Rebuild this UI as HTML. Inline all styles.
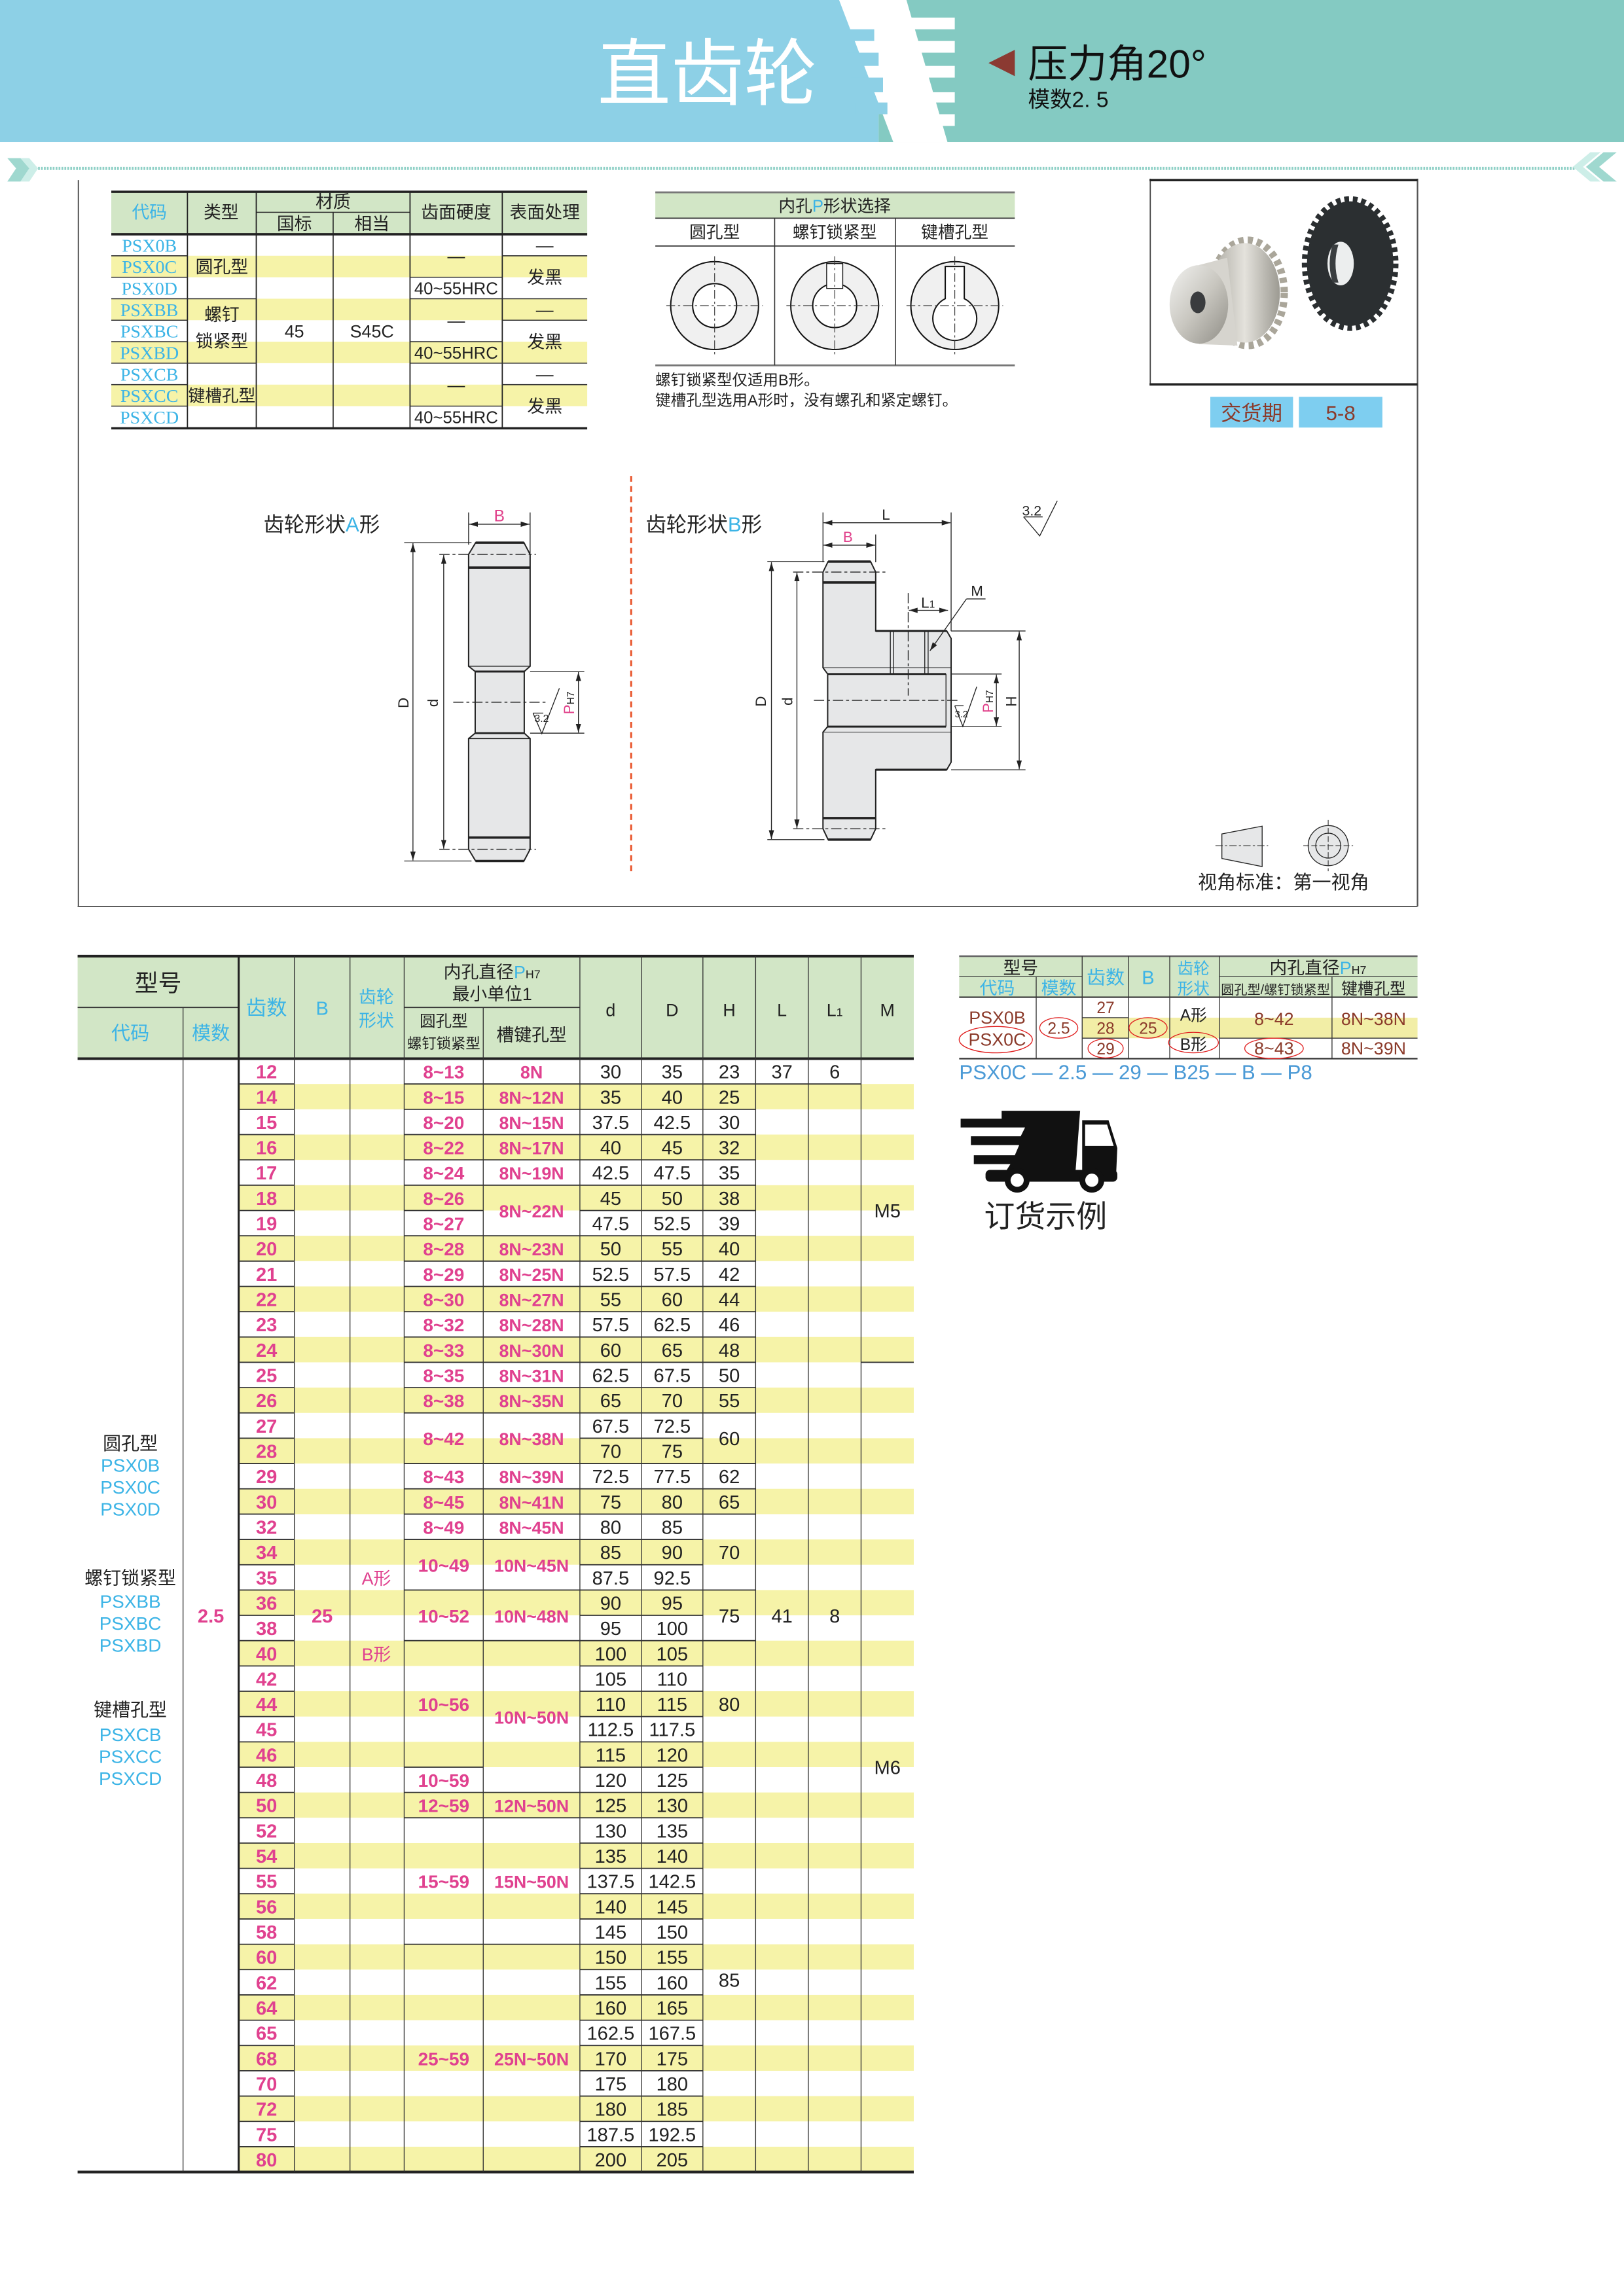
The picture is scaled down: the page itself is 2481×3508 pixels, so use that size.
<!DOCTYPE html>
<html><head><meta charset="utf-8">
<style>
html,body{margin:0;padding:0;background:#fff;}
svg{display:block;}
text{font-family:"Liberation Sans","Noto Sans CJK SC",sans-serif;}
.s{font-family:"Liberation Serif","Noto Serif CJK SC",serif;}
</style></head>
<body>
<svg id="g" xmlns="http://www.w3.org/2000/svg" width="2481" height="3508" viewBox="0 0 1109 1568" preserveAspectRatio="none">
<defs>
<marker id="ar" viewBox="0 0 10 10" refX="10" refY="5" markerWidth="6" markerHeight="6" orient="auto-start-reverse" markerUnits="userSpaceOnUse"><path d="M0,2 L10,5 L0,8 Z" fill="#222"/></marker>
<linearGradient id="sil" x1="0" y1="0" x2="1" y2="1"><stop offset="0" stop-color="#f2f2f0"/><stop offset="0.5" stop-color="#c9c7c0"/><stop offset="1" stop-color="#8f8d86"/></linearGradient>
<linearGradient id="sil2" x1="0" y1="0" x2="1" y2="0"><stop offset="0" stop-color="#a8a69e"/><stop offset="0.5" stop-color="#e4e2dc"/><stop offset="1" stop-color="#9c9a92"/></linearGradient>
</defs>
<rect x="0" y="0" width="1109" height="1568" fill="#fff"/>
<rect x="0" y="0" width="600" height="97" fill="#8dd0e6"/>
<rect x="600" y="0" width="509" height="97" fill="#84cac2"/>
<polygon points="573,0 619,0 647,97 610,97" fill="#fff"/>
<g fill="#fff">
<rect x="619" y="12" width="33" height="8"/><rect x="619" y="28" width="33" height="8"/><rect x="619" y="45" width="33" height="8"/><rect x="619" y="63" width="33" height="7"/><rect x="619" y="78" width="33" height="8"/>
</g>
<g fill="#8dd0e6">
<rect x="575" y="20" width="22" height="8"/><rect x="578" y="36" width="22" height="9"/><rect x="581" y="53" width="22" height="10"/><rect x="584" y="70" width="22" height="8"/>
</g>
<text x="483" y="68" font-size="50" fill="#fff" text-anchor="middle">直齿轮</text>
<polygon points="693,34 693,52 675,43" fill="#8b3a32"/>
<text x="702" y="53" font-size="27" fill="#111">压力角20°</text>
<text x="702" y="73" font-size="15" fill="#111">模数2. 5</text>
<line x1="18" y1="115" x2="1076" y2="115" stroke="#8fd0c6" stroke-width="2.2" stroke-dasharray="1.2 0.8"/>
<polygon points="5,108 14,108 20,115 14,124 5,124 11,115" fill="#9fd8cf"/>
<polygon points="14,108 20,108 26,115 20,124 14,124 20,115" fill="#cdeee8"/>
<polygon points="1104,104 1095,104 1083,114 1095,124 1104,124 1092,114" fill="#9fd8cf"/>
<polygon points="1093,104 1086,104 1074,114 1086,124 1093,124 1081,114" fill="#cdeee8"/>
<line x1="53.5" y1="123" x2="53.5" y2="619" stroke="#444" stroke-width="0.8"/>
<line x1="53" y1="619" x2="968" y2="619" stroke="#444" stroke-width="0.8"/>
<line x1="968" y1="122" x2="968" y2="619" stroke="#555" stroke-width="1"/>
<line x1="785.5" y1="122" x2="785.5" y2="263" stroke="#444" stroke-width="0.8"/>
<line x1="785" y1="123" x2="968" y2="123" stroke="#222" stroke-width="1.6"/>
<line x1="785" y1="262.5" x2="968" y2="262.5" stroke="#222" stroke-width="1.6"/>
<g>
<ellipse cx="852" cy="200" rx="25" ry="36" fill="none" stroke="#aaa69a" stroke-width="5" stroke-dasharray="3.5 2.8"/>
<ellipse cx="850" cy="200" rx="24" ry="34" fill="url(#sil2)"/>
<path d="M818.7,181 L838,176 L845,236 L818.7,235 Z" fill="#d6d4ce"/>
<ellipse cx="818.7" cy="207.9" rx="20" ry="26.8" fill="url(#sil)"/>
<ellipse cx="818" cy="206.5" rx="5.2" ry="7.4" fill="#3a3c3e"/>
<ellipse cx="922" cy="180" rx="31" ry="44" fill="none" stroke="#2a2e30" stroke-width="4" stroke-dasharray="3.2 2.6"/>
<ellipse cx="922" cy="180" rx="29.5" ry="42.5" fill="#2b2f31"/>
<ellipse cx="915.5" cy="180" rx="9" ry="14.9" fill="#eceeee"/>
<path d="M910,167 Q906,180 910,193 L914,193 Q910,180 914,167Z" fill="#3a3e40"/>
</g>
<rect x="826.5" y="271" width="56.5" height="21" fill="#7ecef0"/>
<rect x="887" y="271" width="57" height="21" fill="#7ecef0"/>
<text x="854.7" y="287" font-size="14" fill="#8b3a2a" text-anchor="middle">交货期</text>
<text x="915.5" y="287" font-size="14" fill="#8b3a2a" text-anchor="middle">5-8</text>

<rect x="447.5" y="131.4" width="245.5" height="17.6" fill="#d2e6c6"/>
<line x1="447.5" y1="131.4" x2="693" y2="131.4" stroke="#777" stroke-width="1.3"/>
<line x1="447.5" y1="149" x2="693" y2="149" stroke="#333" stroke-width="0.8"/>
<line x1="447.5" y1="168" x2="693" y2="168" stroke="#333" stroke-width="0.8"/>
<line x1="447.5" y1="249.5" x2="693" y2="249.5" stroke="#777" stroke-width="1.3"/>
<line x1="529" y1="149" x2="529" y2="249.5" stroke="#333" stroke-width="0.7"/>
<line x1="611.5" y1="149" x2="611.5" y2="249.5" stroke="#333" stroke-width="0.7"/>
<text x="570" y="144.5" font-size="11.5" fill="#222" text-anchor="middle">内孔<tspan fill="#3cb4e6">P</tspan>形状选择</text>
<text x="488" y="162.5" font-size="11.5" fill="#222" text-anchor="middle">圆孔型</text>
<text x="570" y="162.5" font-size="11.5" fill="#222" text-anchor="middle">螺钉锁紧型</text>
<text x="652" y="162.5" font-size="11.5" fill="#222" text-anchor="middle">键槽孔型</text>
<g stroke="#111" stroke-width="0.9">
<circle cx="488" cy="208.7" r="30" fill="#f0f0f0"/><circle cx="488" cy="208.7" r="15" fill="#fff"/>
<circle cx="570" cy="208.7" r="30" fill="#f0f0f0"/><circle cx="570" cy="208.7" r="15" fill="#fff"/>
<rect x="564.5" y="180" width="11" height="17" fill="#fff" stroke-width="0.6"/>
<circle cx="652" cy="208.7" r="30" fill="#f0f0f0"/>
<path d="M645.5,204 L645.5,182 L658.5,182 L658.5,204 A15,15 0 1 1 645.5,204 Z" fill="#fff"/>
</g>
<g stroke="#333" stroke-width="0.5" stroke-dasharray="6 2 1.5 2">
<line x1="455" y1="208.7" x2="521" y2="208.7"/><line x1="488" y1="175" x2="488" y2="243"/>
<line x1="537" y1="208.7" x2="603" y2="208.7"/><line x1="570" y1="175" x2="570" y2="243"/>
<line x1="619" y1="208.7" x2="685" y2="208.7"/><line x1="652" y1="175" x2="652" y2="243"/>
</g>
<text x="447.5" y="263" font-size="10.5" fill="#222">螺钉锁紧型仅适用B形。</text>
<text x="447.5" y="277" font-size="10.5" fill="#222">键槽孔型选用A形时，没有螺孔和紧定螺钉。</text>

<line x1="431" y1="325" x2="431" y2="598" stroke="#e8542a" stroke-width="1.3" stroke-dasharray="4 3"/>
<text x="180" y="363" font-size="14" fill="#222">齿轮形状<tspan fill="#3cb4e6">A</tspan>形</text>
<text x="441" y="363" font-size="14" fill="#222">齿轮形状<tspan fill="#3cb4e6">B</tspan>形</text>
<path d="M324.8 370.6 L357.8 370.6 L362 378.6 L362 455 L358 458.6 L358 500.7 L362 504.4 L362 580 L357.8 588 L324.8 588 L320 580 L320 504.4 L324.5 500.7 L324.5 458.6 L320 455 L320 378.6 Z" fill="#e6e7e8" stroke="#222" stroke-width="0.9"/>
<g stroke="#222" fill="none">
<line x1="320" y1="387.6" x2="362" y2="387.6" stroke-width="1.6"/>
<line x1="320" y1="572" x2="362" y2="572" stroke-width="1.6"/>
<line x1="324.5" y1="458.6" x2="358" y2="458.6" stroke-width="1.3"/>
<line x1="324.5" y1="500.7" x2="358" y2="500.7" stroke-width="1.3"/>
<line x1="320" y1="455" x2="362" y2="455" stroke-width="0.6"/>
<line x1="320" y1="504.4" x2="362" y2="504.4" stroke-width="0.6"/>
<line x1="324.8" y1="370.6" x2="357.8" y2="370.6" stroke-width="1.6"/>
<line x1="324.8" y1="588" x2="357.8" y2="588" stroke-width="1.6"/>
<g stroke-width="0.6" stroke-dasharray="7 2 2 2">
<line x1="300" y1="378.6" x2="366" y2="378.6"/><line x1="300" y1="580" x2="366" y2="580"/>
<line x1="309.5" y1="479.6" x2="373" y2="479.6"/>
</g>
<g stroke-width="0.6">
<line x1="276" y1="370.6" x2="322" y2="370.6"/><line x1="276" y1="588" x2="322" y2="588"/>
<line x1="282" y1="371" x2="282" y2="587.6" marker-start="url(#ar)" marker-end="url(#ar)"/>
<line x1="303" y1="379" x2="303" y2="579.6" marker-start="url(#ar)" marker-end="url(#ar)"/>
<line x1="320" y1="350" x2="320" y2="372"/><line x1="362" y1="350" x2="362" y2="378"/>
<line x1="320.4" y1="358" x2="361.6" y2="358" marker-start="url(#ar)" marker-end="url(#ar)"/>
<line x1="362" y1="458.6" x2="399" y2="458.6"/><line x1="362" y1="500.7" x2="399" y2="500.7"/>
<line x1="395" y1="459" x2="395" y2="500.3" marker-start="url(#ar)" marker-end="url(#ar)"/>
<path d="M364,487 L370,501 L382,470"/><line x1="364" y1="487" x2="371" y2="487"/>
</g>
</g>
<text x="341" y="356" font-size="11" fill="#e0408a" text-anchor="middle">B</text>
<text transform="translate(279,480) rotate(-90)" font-size="10" fill="#222" text-anchor="middle">D</text>
<text transform="translate(299,480) rotate(-90)" font-size="10" fill="#222" text-anchor="middle">d</text>
<text transform="translate(392,480) rotate(-90)" font-size="10" fill="#e0408a" text-anchor="middle">P<tspan font-size="7" fill="#222">H7</tspan></text>
<text x="365" y="493" font-size="7" fill="#222">3.2</text>
<path d="M565.5 383.5 L594.5 383.5 L598 390.7 L598 430.9 L646.5 430.9 L649.5 436 L649.5 520.5 L646.5 525.7 L598 525.7 L598 566 L594.5 573.4 L565.5 573.4 L562 566 L562 500 L565.2 496.2 L565.2 460.3 L562 456 L562 390.7 Z" fill="#e6e7e8" stroke="#222" stroke-width="0.9"/>
<g stroke="#222" fill="none">
<line x1="562" y1="397.8" x2="598" y2="397.8" stroke-width="1.6"/>
<line x1="562" y1="558.7" x2="598" y2="558.7" stroke-width="1.6"/>
<line x1="565.5" y1="383.5" x2="594.5" y2="383.5" stroke-width="1.6"/>
<line x1="565.5" y1="573.4" x2="594.5" y2="573.4" stroke-width="1.6"/>
<line x1="598" y1="430.9" x2="646.5" y2="430.9" stroke-width="1.4"/>
<line x1="598" y1="525.7" x2="646.5" y2="525.7" stroke-width="1.4"/>
<line x1="565.2" y1="460.3" x2="646" y2="460.3" stroke-width="1.3"/>
<line x1="565.2" y1="496.2" x2="646" y2="496.2" stroke-width="1.3"/>
<line x1="646" y1="460.3" x2="646" y2="496.2" stroke-width="0.6"/>
<line x1="562" y1="456" x2="649.5" y2="456" stroke-width="0.5"/>
<line x1="562" y1="500" x2="649.5" y2="500" stroke-width="0.5"/>
<g stroke-width="0.6">
<line x1="608" y1="431" x2="608" y2="460"/><line x1="610.2" y1="431" x2="610.2" y2="460"/>
<line x1="631.5" y1="431" x2="631.5" y2="460"/><line x1="633.8" y1="431" x2="633.8" y2="460"/>
</g>
<g stroke-width="0.6" stroke-dasharray="7 2 2 2">
<line x1="541.6" y1="390.7" x2="605.6" y2="390.7"/><line x1="541.6" y1="566" x2="605.6" y2="566"/>
<line x1="555.8" y1="478.3" x2="654.8" y2="478.3"/>
<line x1="620.2" y1="405" x2="620.2" y2="475"/>
</g>
<g stroke-width="0.6">
<line x1="524" y1="383.5" x2="563" y2="383.5"/><line x1="524" y1="573.4" x2="563" y2="573.4"/>
<line x1="526.8" y1="384" x2="526.8" y2="573" marker-start="url(#ar)" marker-end="url(#ar)"/>
<line x1="544.2" y1="391" x2="544.2" y2="565.6" marker-start="url(#ar)" marker-end="url(#ar)"/>
<line x1="562" y1="350" x2="562" y2="384"/><line x1="649.5" y1="350" x2="649.5" y2="431"/><line x1="598" y1="365" x2="598" y2="384"/>
<line x1="562.4" y1="357" x2="649.1" y2="357" marker-start="url(#ar)" marker-end="url(#ar)"/>
<line x1="562.4" y1="372.3" x2="597.6" y2="372.3" marker-start="url(#ar)" marker-end="url(#ar)"/>
<line x1="620.6" y1="416.8" x2="647.4" y2="416.8" marker-start="url(#ar)" marker-end="url(#ar)"/>
<line x1="660" y1="409" x2="673" y2="409"/>
<line x1="660" y1="409" x2="635" y2="444.5" marker-end="url(#ar)"/>
<line x1="649.5" y1="430.9" x2="700.3" y2="430.9"/><line x1="649.5" y1="525.7" x2="700.3" y2="525.7"/>
<line x1="696" y1="431.3" x2="696" y2="525.3" marker-start="url(#ar)" marker-end="url(#ar)"/>
<line x1="649.5" y1="460.3" x2="684" y2="460.3"/><line x1="649.5" y1="496.2" x2="684" y2="496.2"/>
<line x1="680.4" y1="460.7" x2="680.4" y2="495.8" marker-start="url(#ar)" marker-end="url(#ar)"/>
<path d="M652,482 L657.5,496 L667,469"/><line x1="652" y1="482" x2="658" y2="482"/>
<path d="M699,353 L710,366 L722,342"/><line x1="699" y1="353" x2="712" y2="353"/>
</g>
</g>
<text x="605" y="355" font-size="10" fill="#222" text-anchor="middle">L</text>
<text x="579" y="370" font-size="10" fill="#e0408a" text-anchor="middle">B</text>
<text x="629" y="415" font-size="10" fill="#222">L<tspan font-size="7">1</tspan></text>
<text x="663" y="407" font-size="10" fill="#222">M</text>
<text transform="translate(523,479) rotate(-90)" font-size="10" fill="#222" text-anchor="middle">D</text>
<text transform="translate(541,479) rotate(-90)" font-size="10" fill="#222" text-anchor="middle">d</text>
<text transform="translate(678,479) rotate(-90)" font-size="10" fill="#e0408a" text-anchor="middle">P<tspan font-size="7" fill="#222">H7</tspan></text>
<text transform="translate(694,479) rotate(-90)" font-size="10" fill="#222" text-anchor="middle">H</text>
<text x="652" y="490" font-size="6.5" fill="#222">3.2</text>
<text x="698" y="352" font-size="9.5" fill="#222">3.2</text>
<polygon points="834.4,569.5 861.9,564.2 861.9,591.8 834.4,586.3" fill="#e6e7e8" stroke="#222" stroke-width="0.6"/>
<line x1="830" y1="577.5" x2="866" y2="577.5" stroke="#333" stroke-width="0.5" stroke-dasharray="5 1.5 1.5 1.5"/>
<circle cx="907" cy="577.5" r="13.7" fill="#e6e7e8" stroke="#222" stroke-width="0.6"/>
<circle cx="907" cy="577.5" r="8.5" fill="#e6e7e8" stroke="#222" stroke-width="0.6"/>
<line x1="890" y1="577.5" x2="924" y2="577.5" stroke="#333" stroke-width="0.5" stroke-dasharray="4 1.5"/>
<line x1="907" y1="560" x2="907" y2="595" stroke="#333" stroke-width="0.5" stroke-dasharray="4 1.5"/>
<text x="818" y="607" font-size="13" fill="#222">视角标准：第一视角</text>

<rect x="655" y="653" width="313" height="28" fill="#d2e6c6"/>
<rect x="739" y="695" width="229" height="14" fill="#f2eea6"/>
<g stroke="#333" stroke-width="0.6">
<line x1="655" y1="653" x2="968" y2="653" stroke="#666" stroke-width="1.2"/>
<line x1="655" y1="667" x2="739" y2="667"/><line x1="832.7" y1="667" x2="968" y2="667"/>
<line x1="655" y1="681" x2="968" y2="681" stroke-width="0.9"/>
<line x1="655" y1="723" x2="968" y2="723" stroke-width="1"/>
<line x1="707.6" y1="667" x2="707.6" y2="723"/>
<line x1="739" y1="653" x2="739" y2="723"/><line x1="770.6" y1="653" x2="770.6" y2="723"/>
<line x1="798.8" y1="653" x2="798.8" y2="723"/><line x1="832.7" y1="653" x2="832.7" y2="723"/>
<line x1="909.6" y1="667" x2="909.6" y2="723"/>
<line x1="739" y1="695" x2="770.6" y2="695"/><line x1="739" y1="709" x2="770.6" y2="709"/>
<line x1="832.7" y1="709" x2="968" y2="709"/>
</g>
<g font-size="12" text-anchor="middle">
<text x="697" y="665" fill="#222">型号</text>
<text x="681" y="679" fill="#3cb4e6">代码</text><text x="723" y="679" fill="#3cb4e6">模数</text>
<text x="755" y="672" fill="#3cb4e6" font-size="13">齿数</text><text x="784" y="672" fill="#3cb4e6" font-size="13">B</text>
<text x="815" y="665" fill="#3cb4e6" font-size="11">齿轮</text><text x="815" y="679" fill="#3cb4e6" font-size="11">形状</text>
<text x="900" y="665" fill="#222">内孔直径<tspan fill="#3cb4e6">P</tspan><tspan font-size="8">H7</tspan></text>
<text x="871" y="679" fill="#222" font-size="9">圆孔型/螺钉锁紧型</text><text x="938" y="679" fill="#222" font-size="11">键槽孔型</text>
<g fill="#8b3a2a">
<text x="681" y="699">PSX0B</text><text x="681" y="714">PSX0C</text>
<text x="723" y="706" font-size="11">2.5</text>
<text x="755" y="692" font-size="11">27</text><text x="755" y="706" font-size="11">28</text><text x="755" y="720" font-size="11">29</text>
<text x="784" y="706" font-size="11">25</text>
<text x="870" y="700">8~42</text><text x="870" y="720">8~43</text>
<text x="938" y="700">8N~38N</text><text x="938" y="720">8N~39N</text>
</g>
<text x="815" y="697" fill="#222" font-size="11">A形</text><text x="815" y="717" fill="#222" font-size="11">B形</text>
</g>
<g fill="none" stroke="#e02020" stroke-width="0.6">
<ellipse cx="680" cy="710" rx="25" ry="9"/><ellipse cx="723" cy="702" rx="13" ry="7"/>
<ellipse cx="755" cy="716" rx="12" ry="6.5"/><ellipse cx="784" cy="702" rx="13" ry="7"/>
<ellipse cx="815" cy="712" rx="17" ry="7"/><ellipse cx="870" cy="716" rx="20" ry="7"/>
</g>
<text x="655" y="737" font-size="14" fill="#4b9ad6">PSX0C — 2.5 — 29 — B25 — B — P8</text>
<g fill="#111">
<polygon points="684,758.6 737.6,758.6 734,806 683,806 690,795 665,795 665,789 693,789 696,782 663,782 663,776 697,776 700,770 656,770 656,764 684,764"/>
<polygon points="739,765 757,765 763,784 762,806 739,806"/>
<rect x="673" y="799" width="90" height="8" rx="3"/>
<circle cx="694.6" cy="806" r="8.5"/><circle cx="745.6" cy="806" r="8.5"/>
</g>
<polygon points="741,768 756,768 760.5,782.6 741,782.6" fill="#fff"/>
<circle cx="694.6" cy="806" r="4.5" fill="#fff"/><circle cx="745.6" cy="806" r="4.5" fill="#fff"/>
<text x="672" y="838" font-size="21" fill="#222">订货示例</text>
<g id="tl"></g>
<g id="mt"></g>
</svg>
<script>
(function(){
var NS="http://www.w3.org/2000/svg";
function el(p,n,a,t){var e=document.createElementNS(NS,n);for(var k in a)e.setAttribute(k,a[k]);if(t!=null)e.textContent=t;p.appendChild(e);return e;}
function L(p,x1,y1,x2,y2,w,c){el(p,"line",{x1:x1,y1:y1,x2:x2,y2:y2,stroke:c||"#333","stroke-width":w||0.6});}
function T(p,x,y,s,sz,c,cls,fw){var a={x:x,y:y,"font-size":sz,fill:c||"#222","text-anchor":"middle"};if(cls)a["class"]=cls;if(fw)a["font-weight"]=fw;el(p,"text",a,s);}
var BLUE="#3cb4e6",PINK="#e0418f",YEL="#f6f3a8",GRN="#d2e6c6";
var g=document.getElementById("tl");
var R=14.67,Y=160;
el(g,"rect",{x:76,y:131,width:325,height:29,fill:GRN});
[1,3,5,7].forEach(function(k){el(g,"rect",{x:76,y:Y+k*R,width:325,height:R,fill:YEL});});
L(g,76,131,401,131,1.6,"#222");L(g,76,160,401,160,1.6,"#222");L(g,76,292.5,401,292.5,1.6,"#222");
L(g,175,145,280,145,0.7);
[128,175,280,343].forEach(function(x){L(g,x,131,x,292.5,0.8,"#222");});L(g,227.5,145,227.5,292.5,0.7,"#222");
for(var k=1;k<9;k++)L(g,76,Y+k*R,128,Y+k*R,0.7);
[3,6].forEach(function(k){L(g,128,Y+k*R,175,Y+k*R,0.7);});
[2,3,5,6,8].forEach(function(k){L(g,280,Y+k*R,343,Y+k*R,0.7);});
[1,3,4,6,7].forEach(function(k){L(g,343,Y+k*R,401,Y+k*R,0.7);});
T(g,102,149,"代码",12,BLUE);T(g,151,149,"类型",12);T(g,227.5,142,"材质",12);T(g,201,157,"国标",12);T(g,254,157,"相当",12);T(g,311.5,149,"齿面硬度",12);T(g,372,149,"表面处理",12);
["PSX0B","PSX0C","PSX0D","PSXBB","PSXBC","PSXBD","PSXCB","PSXCC","PSXCD"].forEach(function(s,k){T(g,102,Y+(k+0.5)*R+4.5,s,12.5,BLUE,"s");});
function cy(k){return Y+k*R+4.3;}
T(g,151.5,cy(1.5),"圆孔型",12);T(g,151.5,cy(4)-4,"螺钉",12);T(g,151.5,cy(5.1)-2,"锁紧型",12);T(g,151.5,cy(7.5),"键槽孔型",11.5);
T(g,201,cy(4.5),"45",12);T(g,254,cy(4.5),"S45C",12);
[1,4,7].forEach(function(k){T(g,311.5,cy(k),"—",12);});
[2,5,8].forEach(function(k){T(g,311.5,cy(k+0.5),"40~55HRC",11.5);});
[0,3,6].forEach(function(k){T(g,372,cy(k+0.5),"—",12);});
[2,5,8].forEach(function(k){T(g,372,cy(k),"发黑",12);});
var m=document.getElementById("mt");
var Y0=723,RH=17.28;
var z=[12,14,15,16,17,18,19,20,21,22,23,24,25,26,27,28,29,30,32,34,35,36,38,40,42,44,45,46,48,50,52,54,55,56,58,60,62,64,65,68,70,72,75,80];
var d=["30","35","37.5","40","42.5","45","47.5","50","52.5","55","57.5","60","62.5","65","67.5","70","72.5","75","80","85","87.5","90","95","100","105","110","112.5","115","120","125","130","135","137.5","140","145","150","155","160","162.5","170","175","180","187.5","200"];
var D=["35","40","42.5","45","47.5","50","52.5","55","57.5","60","62.5","65","67.5","70","72.5","75","77.5","80","85","90","92.5","95","100","105","110","115","117.5","120","125","130","135","140","142.5","145","150","155","160","165","167.5","175","180","185","192.5","205"];
el(m,"rect",{x:53,y:653,width:571,height:70,fill:GRN});
for(var i=0;i<44;i++){if(i%2==1)el(m,"rect",{x:163,y:Y0+i*RH,width:461,height:RH,fill:YEL});}
var YB=Y0+44*RH;
L(m,53,653,624,653,1.8,"#222");L(m,53,723,624,723,1.8,"#222");L(m,53,YB,624,YB,1.8,"#222");
L(m,53,688,163,688,0.8);L(m,276,688,396,688,0.8);
L(m,125,688,125,YB,0.6);L(m,163,653,163,YB,1.4,"#222");
[201,239,276,396,438,480,516,552,588].forEach(function(x){L(m,x,653,x,YB,0.6);});L(m,330,688,330,YB,0.6);
function hl(x1,x2,list){list.forEach(function(b){L(m,x1,Y0+b*RH,x2,Y0+b*RH,0.8,"#333");});}
var all=[];for(var b=1;b<44;b++)all.push(b);
hl(163,201,all);hl(396,480,all);
hl(480,516,[1,2,3,4,5,6,7,8,9,10,11,12,13,14,16,17,18,21,23]);
hl(276,330,[1,2,3,4,5,6,7,8,9,10,11,12,13,14,16,17,18,19,21,23,28,29,30,35]);
hl(330,396,[1,2,3,4,5,7,8,9,10,11,12,13,14,16,17,18,19,21,23,29,30,35]);
hl(516,588,[1]);hl(588,624,[12]);
function ry(r){return Y0+r*RH+4.8;}
T(m,108,677,"型号",16);T(m,89,710,"代码",13,BLUE);T(m,144,710,"模数",13,BLUE);
T(m,182,693,"齿数",14,BLUE);T(m,220,693,"B",13,BLUE);T(m,257,685,"齿轮",12,BLUE);T(m,257,701,"形状",12,BLUE);
var t=el(m,"text",{x:336,y:668,"font-size":12,fill:"#222","text-anchor":"middle"},"内孔直径");el(t,"tspan",{fill:BLUE},"P");el(t,"tspan",{"font-size":8},"H7");
T(m,336,683,"最小单位1",12);T(m,303,701,"圆孔型",11);T(m,303,716,"螺钉锁紧型",10);T(m,363,711,"槽键孔型",12);
[["d",417],["D",459],["H",498],["L",534],["M",606]].forEach(function(a){T(m,a[1],694,a[0],12);});
var l1=el(m,"text",{x:570,y:694,"font-size":12,fill:"#222","text-anchor":"middle"},"L");el(l1,"tspan",{"font-size":8},"1");
for(var i=0;i<44;i++){T(m,182,ry(i+0.5),String(z[i]),13,PINK,null,"600");T(m,417,ry(i+0.5),d[i],13);T(m,459,ry(i+0.5),D[i],13);}
var p1=[[0,"8~13"],[1,"8~15"],[2,"8~20"],[3,"8~22"],[4,"8~24"],[5,"8~26"],[6,"8~27"],[7,"8~28"],[8,"8~29"],[9,"8~30"],[10,"8~32"],[11,"8~33"],[12,"8~35"],[13,"8~38"],[14.5,"8~42"],[16,"8~43"],[17,"8~45"],[18,"8~49"],[19.5,"10~49"],[21.5,"10~52"],[25,"10~56"],[28,"10~59"],[29,"12~59"],[32,"15~59"],[39,"25~59"]];
p1.forEach(function(a){T(m,303,ry(a[0]+0.5),a[1],12.5,PINK,null,"600");});
var p2=[[0,"8N"],[1,"8N~12N"],[2,"8N~15N"],[3,"8N~17N"],[4,"8N~19N"],[5.5,"8N~22N"],[7,"8N~23N"],[8,"8N~25N"],[9,"8N~27N"],[10,"8N~28N"],[11,"8N~30N"],[12,"8N~31N"],[13,"8N~35N"],[14.5,"8N~38N"],[16,"8N~39N"],[17,"8N~41N"],[18,"8N~45N"],[19.5,"10N~45N"],[21.5,"10N~48N"],[25.5,"10N~50N"],[29,"12N~50N"],[32,"15N~50N"],[39,"25N~50N"]];
p2.forEach(function(a){T(m,363,ry(a[0]+0.5),a[1],12,PINK,null,"600");});
var H=[[0,"23"],[1,"25"],[2,"30"],[3,"32"],[4,"35"],[5,"38"],[6,"39"],[7,"40"],[8,"42"],[9,"44"],[10,"46"],[11,"48"],[12,"50"],[13,"55"],[14.5,"60"],[16,"62"],[17,"65"],[19,"70"],[21.5,"75"],[25,"80"],[35.9,"85"]];
H.forEach(function(a){T(m,498,ry(a[0]+0.5),a[1],13);});
T(m,534,ry(0.5),"37",13);T(m,570,ry(0.5),"6",13);T(m,534,ry(22),"41",13);T(m,570,ry(22),"8",13);
T(m,606,ry(6),"M5",13);T(m,606,ry(28),"M6",13);
T(m,144,ry(22),"2.5",13,PINK,null,"600");T(m,220,ry(22),"25",13,PINK,null,"600");
T(m,257,ry(20.5),"A形",12,PINK);T(m,257,ry(23.5),"B形",12,PINK);
var grp=[[986,"圆孔型","#222"],[1001,"PSX0B",BLUE],[1016,"PSX0C",BLUE],[1031,"PSX0D",BLUE],[1078,"螺钉锁紧型","#222"],[1094,"PSXBB",BLUE],[1109,"PSXBC",BLUE],[1124,"PSXBD",BLUE],[1168,"键槽孔型","#222"],[1185,"PSXCB",BLUE],[1200,"PSXCC",BLUE],[1215,"PSXCD",BLUE]];
grp.forEach(function(a){T(m,89,a[0]+4,a[1],12.5,a[2]);});
})();
</script>
</body></html>
